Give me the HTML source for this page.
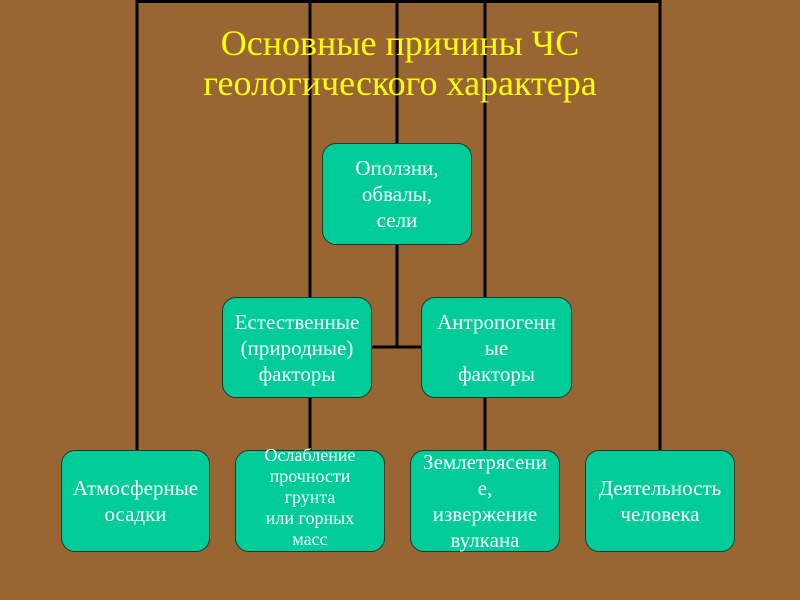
<!DOCTYPE html><html><head><meta charset="utf-8"><style>
body{margin:0;width:800px;height:600px;background:#996633;position:relative;overflow:hidden;font-family:"Liberation Serif",serif}
.t{position:absolute;left:0;width:800px;text-align:center;color:#ffff00;font-size:36px;line-height:40px;top:23px}
.b{position:absolute;width:148px;height:100px;background:#00cc99;border:1.5px solid #1a3a2a;border-radius:14px;box-sizing:border-box;color:#fff;font-size:21px;line-height:26px;display:flex;align-items:center;justify-content:center;text-align:center;white-space:nowrap}
</style></head><body>
<svg width="800" height="600" style="position:absolute;left:0;top:0">
<g stroke="#000" stroke-width="3" fill="none">
<polyline points="137,450 137,1.5 660,1.5 660,450"/>
<line x1="310" y1="1" x2="310" y2="297"/>
<line x1="485" y1="1" x2="485" y2="297"/>
<line x1="397" y1="1" x2="397" y2="143"/>
<line x1="397" y1="244" x2="397" y2="347"/>
<line x1="371" y1="347" x2="421" y2="347"/>
<line x1="310" y1="397" x2="310" y2="450"/>
<line x1="485" y1="397" x2="485" y2="450"/>
</g></svg>
<div class="t">Основные причины ЧС<br>геологического характера</div>
<div class="b" style="left:322px;top:143px;width:150px;height:102px">Оползни,<br>обвалы,<br>сели</div>
<div class="b" style="left:222px;top:297px;width:150px;height:101px">Естественные<br>(природные)<br>факторы</div>
<div class="b" style="left:421px;top:297px;width:151px;height:101px">Антропогенн<br>ые<br>факторы</div>
<div class="b" style="left:61px;top:450px;width:149px;height:102px">Атмосферные<br>осадки</div>
<div class="b" style="left:235px;top:450px;width:150px;height:102px;overflow:visible"><div style="position:absolute;left:0;width:100%;top:-6px;font-size:18px;line-height:21px">Ослабление<br>прочности<br>грунта<br>или горных<br>масс</div></div>
<div class="b" style="left:410px;top:450px;width:150px;height:102px">Землетрясени<br>е,<br>извержение<br>вулкана</div>
<div class="b" style="left:585px;top:450px;width:150px;height:102px">Деятельность<br>человека</div>
</body></html>
